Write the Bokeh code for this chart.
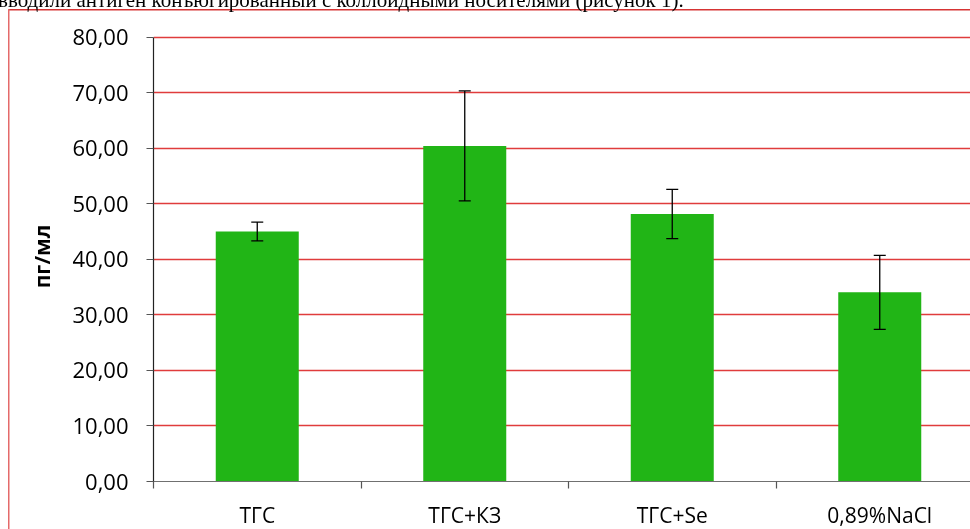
from bokeh.plotting import figure
from bokeh.models import ColumnDataSource, Range1d, FixedTicker, Whisker, TeeHead, Div
from bokeh.embed import file_html
from bokeh.resources import INLINE

# ---- data ----
categories = ["ТГС", "ТГС+КЗ", "ТГС+Se", "0,89%NaCl"]
means = [45.0, 60.4, 48.15, 34.05]
errors = [1.7, 9.9, 4.45, 6.65]
y_ticks = [0, 10, 20, 30, 40, 50, 60, 70, 80]
y_tick_labels = ["0,00", "10,00", "20,00", "30,00", "40,00", "50,00", "60,00", "70,00", "80,00"]
y_axis_title = "пг/мл"
top_text = "вводили антиген конъюгированный с коллоидными носителями (рисунок 1)."

x_centers = [i + 0.5 for i in range(len(categories))]
boundaries = list(range(len(categories) + 1))
upper = [m + e for m, e in zip(means, errors)]
lower = [m - e for m, e in zip(means, errors)]
src = ColumnDataSource(dict(x=x_centers, top=means, upper=upper, lower=lower))

W, H = 970, 529          # visible window
FIG_H = 545              # chart continues below the visible window (clipped)
left_border, top_border, bottom_border = 153, 31, 64
cat_px = 207.5
x_end = (W - left_border) / cat_px

p = figure(width=W, height=FIG_H, output_backend="svg", toolbar_location=None,
           x_range=Range1d(0, x_end), y_range=Range1d(0, 81),
           min_border_left=left_border, min_border_right=0,
           min_border_top=top_border, min_border_bottom=bottom_border)
p.styles = {
    "position": "fixed", "left": "0px", "top": "0px",
    "background-image": "linear-gradient(#e46a6a,#e46a6a), linear-gradient(#d63434,#d63434)",
    "background-size": "1.5px 100%, 100% 1.5px",
    "background-position": "8.3px 9.3px, 8.3px 9.3px",
    "background-repeat": "no-repeat",
}
p.border_fill_color = None
p.background_fill_color = None
p.outline_line_color = None

p.vbar(x="x", top="top", bottom=0, width=0.4, source=src,
       fill_color="#21b516", line_color=None)

wh = Whisker(source=src, base="x", upper="upper", lower="lower", dimension="height",
             line_color="black", line_width=1.3, level="overlay",
             upper_head=TeeHead(size=12, line_color="black", line_width=1.3),
             lower_head=TeeHead(size=12, line_color="black", line_width=1.3))
p.add_layout(wh)

font = "Open Sans"

# x axis
xa = p.xaxis[0]
xa.ticker = FixedTicker(ticks=x_centers, minor_ticks=boundaries)
xa.major_label_overrides = {x: c for x, c in zip(x_centers, categories)}
xa.major_tick_out = 0
xa.major_tick_in = 0
xa.minor_tick_out = 7
xa.minor_tick_in = 0
xa.minor_tick_line_color = "#555555"
xa.minor_tick_line_width = 1.2
xa.axis_line_color = "#707070"
xa.axis_line_width = 1.2
xa.major_label_text_font = font
xa.major_label_text_font_size = "21px"
xa.major_label_text_color = "black"
xa.major_label_standoff = 12

# y axis
ya = p.yaxis[0]
ya.ticker = FixedTicker(ticks=y_ticks, minor_ticks=[])
ya.major_label_overrides = {t: s for t, s in zip(y_ticks, y_tick_labels)}
ya.bounds = (y_ticks[0], y_ticks[-1])
ya.major_tick_out = 7
ya.major_tick_in = 0
ya.major_tick_line_color = "#555555"
ya.major_tick_line_width = 1.2
ya.axis_line_color = "#222222"
ya.axis_line_width = 1.2
ya.major_label_text_font = font
ya.major_label_text_font_size = "22px"
ya.major_label_text_color = "black"
ya.major_label_standoff = 18
ya.axis_label = y_axis_title
ya.axis_label_text_font = font
ya.axis_label_text_font_style = "bold"
ya.axis_label_text_font_size = "21px"
ya.axis_label_text_color = "black"
ya.axis_label_standoff = 13

p.xgrid.visible = False
p.ygrid.ticker = FixedTicker(ticks=y_ticks[1:])
p.ygrid.grid_line_color = "#e03c3c"
p.ygrid.grid_line_width = 1.3

# caption line of the surrounding document, clipped at the top edge as in the reference
caption = Div(text=top_text, margin=(0, 0, 0, 0),
              styles={"position": "fixed", "left": "-2px", "top": "-9.6px",
                      "font-family": "'Liberation Serif', serif", "font-size": "21px",
                      "line-height": "1", "white-space": "nowrap", "color": "black",
                      "z-index": "2"})

open("out.html", "w").write(file_html([p, caption], INLINE))
